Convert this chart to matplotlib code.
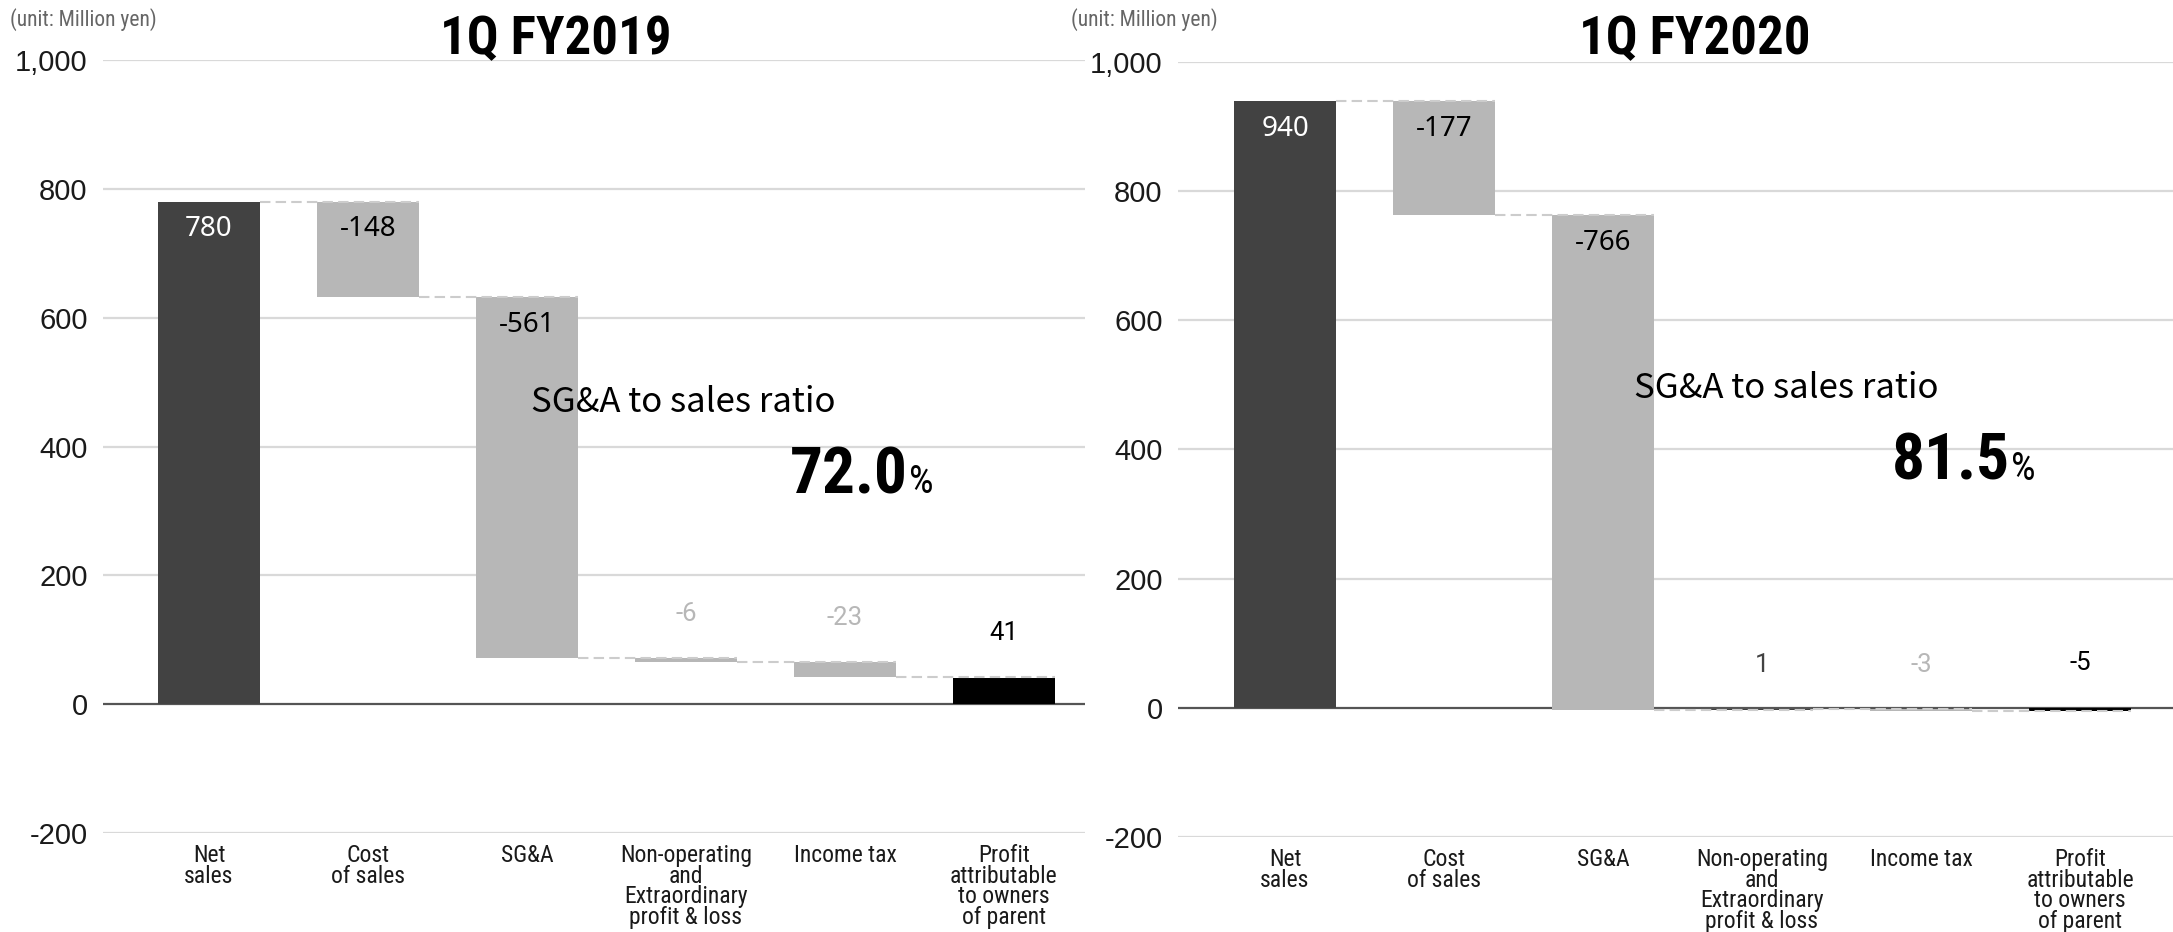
import matplotlib
matplotlib.use("Agg")
import matplotlib.pyplot as plt
from matplotlib import font_manager as fm

# ---- data (million yen) ----
categories = ["Net\nsales", "Cost\nof sales", "SG&A",
              "Non-operating\nand\nExtraordinary\nprofit & loss",
              "Income tax", "Profit\nattributable\nto owners\nof parent"]
fy2019_values = [780, -148, -561, -6, -23, 41]
fy2020_values = [940, -177, -766, 1, -3, -5]
panel_titles = ["1Q FY2019", "1Q FY2020"]
sga_ratios = ["72.0", "81.5"]
y_ticks = [-200, 0, 200, 400, 600, 800, 1000]
y_tick_labels = ["-200", "0", "200", "400", "600", "800", "1,000"]

# ---- fonts ----
_names = {f.name for f in fm.fontManager.ttflist}


def pick(*fams):
    for f in fams:
        if f in _names:
            return f
    return "DejaVu Sans"


NARROW = pick("Liberation Sans Narrow", "Arial Narrow", "Roboto Condensed", "Liberation Sans")
SANS = pick("Liberation Sans", "Arial", "DejaVu Sans")
NOTO = pick("Noto Sans", "Open Sans", "DejaVu Sans")
ROBOTO = pick("Roboto", "Noto Sans", "DejaVu Sans")
JP = pick("Noto Sans CJK JP", "Noto Sans", "DejaVu Sans")

DARK = "#424242"
LIGHT = "#b7b7b7"
TOTAL = "#000000"
GRID = "#d9d9d9"

W, H = 2173, 932
fig = plt.figure(figsize=(W / 100, H / 100), dpi=100)


def fx(px):
    return px / W


def fy(py):
    return 1 - py / H


def waterfall(ax, values, xlim):
    n = len(values)
    width = 0.64
    running = 0.0
    levels = []
    for i, v in enumerate(values):
        if i == 0:
            bottom, top = 0, v
            color = DARK
            running = v
        elif i == n - 1:
            bottom, top = 0, v
            color = TOTAL
            running = v
        else:
            bottom = running
            top = running + v
            color = DARK if v > 0 else LIGHT
            running = top
        levels.append(running)
        lo, hi = min(bottom, top), max(bottom, top)
        ax.bar(i, hi - lo, bottom=lo, width=width, color=color, zorder=2)

        label = f"{v}"
        if abs(v) >= 100:
            txt_color = "white" if color != LIGHT else "black"
            ax.annotate(label, xy=(i, hi), xytext=(0, -20), textcoords="offset points",
                        ha="center", va="center", fontsize=20, color=txt_color,
                        family=NOTO, zorder=5)
        else:
            ax.annotate(label, xy=(i, hi), xytext=(0, 32), textcoords="offset points",
                        ha="center", va="center", fontsize=18.5, color=color,
                        family=ROBOTO, zorder=5)

    # dashed connectors between consecutive bars
    for i in range(n - 1):
        ax.plot([i + width / 2, i + 1 + width / 2], [levels[i], levels[i]],
                color="#cccccc", lw=1.5, ls=(0, (5, 2.5)), zorder=3)

    for t in y_ticks:
        if t == 0:
            ax.axhline(0, color="#555555", lw=1.6, zorder=1)
        else:
            ax.axhline(t, color=GRID, lw=1.6, zorder=0)

    ax.set_xlim(*xlim)
    ax.set_ylim(-200, 1000)
    ax.set_yticks(y_ticks)
    ax.set_yticklabels(y_tick_labels, family=SANS, fontsize=21, color="#1a1a1a")
    ax.set_xticks(range(n))
    ax.set_xticklabels(categories, family=NARROW, fontsize=17, color="#1a1a1a",
                       linespacing=0.86, va="top")
    ax.tick_params(axis="both", length=0)
    ax.tick_params(axis="y", pad=11)
    ax.tick_params(axis="x", pad=8)
    for s in ax.spines.values():
        s.set_visible(False)
    ax.set_facecolor("none")


# left panel
ax1 = fig.add_axes([fx(103), fy(833), fx(1085 - 103), fy(60) - fy(833)])
waterfall(ax1, fy2019_values, (-0.667, 5.51))

# right panel
ax2 = fig.add_axes([fx(1178), fy(837), fx(2173 - 1178), fy(62) - fy(837)])
waterfall(ax2, fy2020_values, (-0.673, 5.585))

# titles and notes
for cx, title in zip([556, 1695], panel_titles):
    fig.text(fx(cx), fy(40), title, ha="center", va="center", fontsize=38,
             fontweight="bold", family=NARROW, color="black")

for lx in [10, 1071]:
    fig.text(fx(lx), fy(20), "(unit: Million yen)", ha="left", va="center",
             fontsize=15.5, family=NARROW, color="#666666")

# SG&A to sales ratio annotations
for (cx, cy), (nx, by), ratio in zip([(683, 403), (1786, 388)],
                                     [(908, 493), (2010, 480)], sga_ratios):
    fig.text(fx(cx), fy(cy), "SG&A to sales ratio", ha="center", va="center",
             fontsize=25, family=JP, color="black")
    fig.text(fx(nx), fy(by), ratio, ha="right", va="baseline", fontsize=47,
             fontweight="bold", family=NARROW, color="black")
    fig.text(fx(nx + 1), fy(by), "%", ha="left", va="baseline", fontsize=28,
             family=NARROW, color="black")

fig.savefig("out.png", dpi=100, facecolor="white")
